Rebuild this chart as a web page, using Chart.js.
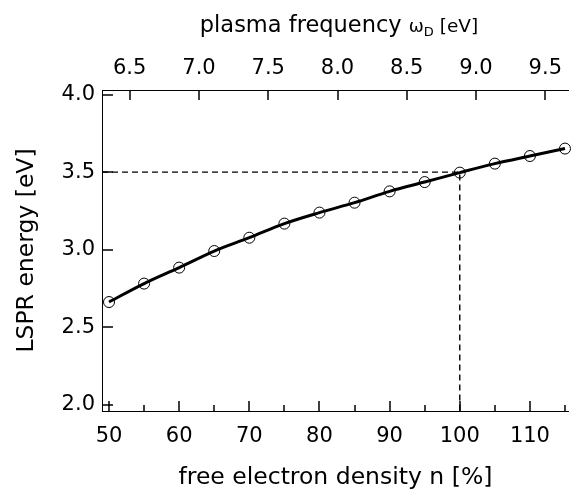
<!DOCTYPE html>
<html>
<head>
<meta charset="utf-8">
<script src="https://cdn.jsdelivr.net/npm/chart.js@4/dist/chart.umd.min.js"></script>
<style>
  body { margin: 0; background: #fff; }
  #wrap { width: 571px; height: 492px; }
</style>
</head>
<body>
<div id="wrap"><canvas id="lsprChart"></canvas></div>
<script>
// data
const density = [50, 55, 60, 65, 70, 75, 80, 85, 90, 95, 100, 105, 110, 115];
const lsprEnergy = [2.662, 2.781, 2.884, 2.991, 3.077, 3.168, 3.239, 3.303, 3.376, 3.436, 3.497, 3.555, 3.604, 3.652];

// dashed guide at n = 100 %, E = 3.5 eV
const guideX = [49, 100, 100];
const guideY = [3.5, 3.5, 1.959];

// tick labels
const densityTicks = [50, 60, 70, 80, 90, 100, 110];
const densityMinor = [55, 65, 75, 85, 95, 105, 115];
const energyTicks = [2.0, 2.5, 3.0, 3.5, 4.0];
const plasmaTicks = [6.5, 7.0, 7.5, 8.0, 8.5, 9.0, 9.5];

const FONT = "'DejaVu Sans', sans-serif";

function toPoints(xs, ys) {
    return xs.map((x, i) => ({ x: x, y: ys[i] }));
}

function fixedTicks(values) {
    return function (scale) {
        scale.ticks = values.map(v => ({ value: v }));
    };
}

/**
 * ticks pointing into the plot + top title with subscript
 */
const inwardTicks = {
    id: "inwardTicks",
    afterDraw(chart) {
        const ctx = chart.ctx;
        const area = chart.chartArea;
        const sx = chart.scales.x, sy = chart.scales.y, st = chart.scales.x2;
        const w = 1.5;
        ctx.save();
        ctx.fillStyle = "#000";
        energyTicks.forEach(v => {
            const y = Math.round(sy.getPixelForValue(v));
            ctx.fillRect(area.left, y - w / 2, 11, w);
        });
        densityTicks.forEach(v => {
            const x = Math.round(sx.getPixelForValue(v));
            ctx.fillRect(x - w / 2, area.bottom - 10, w, 10);
        });
        densityMinor.forEach(v => {
            const x = Math.round(sx.getPixelForValue(v));
            ctx.fillRect(x - w / 2, area.bottom - 6, w, 6);
        });
        plasmaTicks.forEach(v => {
            const x = Math.round(st.getPixelForValue(v));
            ctx.fillRect(x - w / 2, area.top, w, 10);
        });

        // top axis title
        const parts = [
            { t: "plasma frequency ", size: 22.5, dy: 0 },
            { t: "\u03C9", size: 18, dy: 0 },
            { t: "D", size: 13, dy: 4 },
            { t: " [eV]", size: 18.5, dy: 0 }
        ];
        ctx.textBaseline = "alphabetic";
        let total = 0;
        parts.forEach(p => {
            ctx.font = p.size + "px " + FONT;
            p.w = ctx.measureText(p.t).width;
            total += p.w;
        });
        let x = 339 - total / 2;
        parts.forEach(p => {
            ctx.font = p.size + "px " + FONT;
            ctx.fillText(p.t, x, 32 + p.dy);
            x += p.w;
        });
        ctx.restore();
    }
};

const ctx = document.getElementById("lsprChart").getContext("2d");

new Chart(ctx, {
    type: "scatter",
    data: {
        datasets: [
            {
                label: "guide",
                data: toPoints(guideX, guideY),
                showLine: true,
                borderColor: "#000",
                borderWidth: 1.4,
                borderDash: [6, 4],
                pointRadius: 0,
                fill: false
            },
            {
                label: "fit",
                data: toPoints(density, lsprEnergy),
                showLine: true,
                borderColor: "#000",
                borderWidth: 3,
                cubicInterpolationMode: "monotone",
                pointRadius: 0,
                fill: false
            },
            {
                label: "calc",
                data: toPoints(density, lsprEnergy),
                showLine: false,
                pointRadius: 5.5,
                pointBorderWidth: 1,
                pointBorderColor: "#000",
                pointBackgroundColor: "rgba(0,0,0,0)",
                clip: false
            }
        ]
    },
    options: {
        responsive: true,
        maintainAspectRatio: false,
        animation: false,
        layout: { padding: 0, autoPadding: false },
        plugins: {
            legend: { display: false },
            tooltip: { enabled: false }
        },
        scales: {
            x: {
                type: "linear",
                position: "bottom",
                min: 49,
                max: 115.55,
                afterBuildTicks: fixedTicks(densityTicks),
                afterFit: (s) => { s.height = 81; },
                grid: { display: false, drawTicks: false },
                border: { display: true, color: "#000", width: 1 },
                ticks: {
                    color: "#000",
                    font: { family: FONT, size: 21 },
                    padding: 13,
                    maxRotation: 0,
                    callback: (v) => String(v)
                },
                title: {
                    display: true,
                    text: "free electron density n [%]",
                    color: "#000",
                    font: { family: FONT, size: 23.5 },
                    padding: { top: 0, bottom: 0 }
                }
            },
            x2: {
                type: "linear",
                position: "top",
                min: 6.30,
                max: 9.67,
                afterBuildTicks: fixedTicks(plasmaTicks),
                afterFit: (s) => { s.height = 90; },
                grid: { display: false, drawTicks: false },
                border: { display: true, color: "#000", width: 1 },
                ticks: {
                    color: "#000",
                    font: { family: FONT, size: 21 },
                    padding: 9,
                    maxRotation: 0,
                    callback: (v) => v.toFixed(1)
                }
            },
            y: {
                type: "linear",
                position: "left",
                min: 1.959,
                max: 4.03,
                afterBuildTicks: fixedTicks(energyTicks),
                afterFit: (s) => { s.width = 102; },
                grid: { display: false, drawTicks: false },
                border: { display: true, color: "#000", width: 1 },
                ticks: {
                    color: "#000",
                    font: { family: FONT, size: 21 },
                    padding: 7,
                    callback: (v) => v.toFixed(1)
                },
                title: {
                    display: true,
                    text: "LSPR energy [eV]",
                    color: "#000",
                    font: { family: FONT, size: 23.5 },
                    padding: { top: 13, bottom: 0 }
                }
            }
        }
    },
    plugins: [inwardTicks]
});
</script>
</body>
</html>
